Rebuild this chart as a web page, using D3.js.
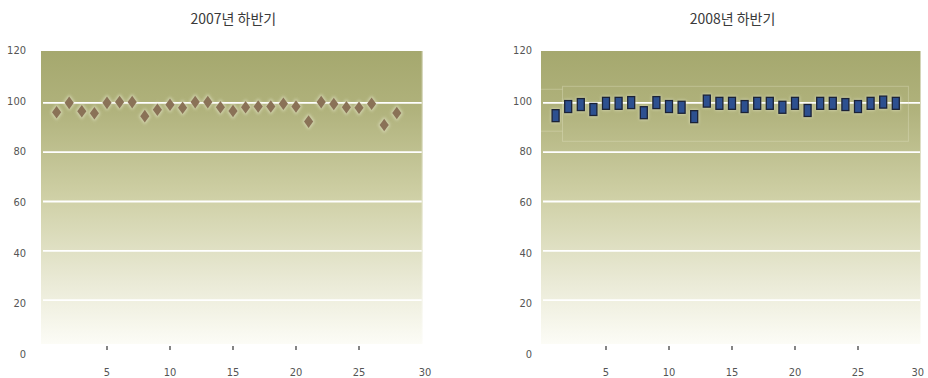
<!DOCTYPE html>
<html>
<head>
<meta charset="utf-8">
<script src="https://cdn.jsdelivr.net/npm/d3@7"></script>
<style>
  html, body { margin: 0; padding: 0; background: #fff; }
  svg { display: block; }
</style>
</head>
<body>
<svg id="chart" width="928" height="378"></svg>
<script>
// Daily index values, second half of each year
const days = d3.range(1, 29);
const values2007 = [96.2, 100, 96.6, 95.8, 100, 100.3, 100.3, 94.6, 97.2, 99.2, 98, 100.3, 100.3, 98.2,
                    96.7, 98.2, 98.5, 98.5, 99.6, 98.5, 92.4, 100.3, 99.5, 98.2, 98, 99.6, 91, 95.9];
const values2008 = [94.8, 98.5, 99.3, 97.3, 99.8, 99.8, 100.1, 96, 100.1, 98.5, 98.2, 94.4, 100.7, 99.8,
                    99.8, 98.5, 99.8, 99.8, 98.2, 99.8, 96.9, 99.8, 99.8, 99.3, 98.5, 99.8, 100.3, 99.8];
const titles = ["2007년 하반기", "2008년 하반기"];
const yTicks = [0, 20, 40, 60, 80, 100, 120];
const xTicks = [5, 10, 15, 20, 25, 30];

const svg = d3.select("#chart");
const defs = svg.append("defs");

const grad = defs.append("linearGradient")
  .attr("id", "plotFill").attr("x1", 0).attr("y1", 0).attr("x2", 0).attr("y2", 1);
grad.append("stop").attr("offset", "0%").attr("stop-color", "#a5a86e");
grad.append("stop").attr("offset", "20%").attr("stop-color", "#b0b27c");
grad.append("stop").attr("offset", "50%").attr("stop-color", "#cfd0a6");
grad.append("stop").attr("offset", "80%").attr("stop-color", "#ebebd8");
grad.append("stop").attr("offset", "100%").attr("stop-color", "#fcfcf6");

defs.append("filter").attr("id", "halo")
  .attr("x", "-100%").attr("y", "-100%").attr("width", "300%").attr("height", "300%")
  .append("feGaussianBlur").attr("stdDeviation", 1.6);

const panels = [
  { title: titles[0], values: values2007, left: 41, right: 422.7, x0: 44, labelX: 26, marker: "diamond" },
  { title: titles[1], values: values2008, left: 541, right: 921, x0: 543, labelX: 532, marker: "box" }
];

const plotTop = 51, plotBottom = 344;

panels.forEach(p => {
  const g = svg.append("g");
  const x = d3.scaleLinear().domain([0, 30]).range([p.x0, p.x0 + 378]);
  const y = d3.scaleLinear().domain([0, 120]).range([349.5, 53.5]);
  const yLabel = d3.scaleLinear().domain([0, 120]).range([354, 50]);

  // title
  g.append("text")
    .attr("x", (p.left + p.right) / 2 + 1.5).attr("y", 24)
    .attr("text-anchor", "middle")
    .attr("font-family", "'Noto Sans CJK KR', sans-serif")
    .attr("font-size", 14).attr("fill", "#3a3a3a")
    .text(p.title);

  // plot background
  g.append("rect")
    .attr("x", p.left).attr("y", plotTop)
    .attr("width", p.right - p.left).attr("height", plotBottom - plotTop)
    .attr("fill", "url(#plotFill)");
  g.append("line")
    .attr("x1", p.right - 0.5).attr("x2", p.right - 0.5)
    .attr("y1", plotTop).attr("y2", plotBottom)
    .attr("stroke", "#ffffff").attr("stroke-opacity", 0.5);

  // horizontal gridlines
  g.selectAll(".grid").data(yTicks.filter(v => v > 0 && v < 120)).join("line")
    .attr("x1", p.left + 2).attr("x2", p.right - 1)
    .attr("y1", d => y(d)).attr("y2", d => y(d))
    .attr("stroke", "#ffffff").attr("stroke-width", 1.8);

  // y labels
  g.selectAll(".ylab").data(yTicks).join("text")
    .attr("x", p.labelX).attr("y", d => yLabel(d))
    .attr("dy", "0.35em").attr("text-anchor", "end")
    .attr("font-family", "'Liberation Sans Narrow', 'DejaVu Sans Condensed', sans-serif")
    .attr("font-size", 11).attr("fill", "#555")
    .text(d => d);

  // x ticks and labels
  g.selectAll(".xtick").data(xTicks.filter(v => v < 30)).join("line")
    .attr("x1", d => x(d)).attr("x2", d => x(d))
    .attr("y1", 346).attr("y2", 350)
    .attr("stroke", "#333").attr("stroke-width", 1.2);
  g.selectAll(".xlab").data(xTicks).join("text")
    .attr("x", d => d === 30 ? Math.min(x(d) + 3, 926) : x(d))
    .attr("y", 372)
    .attr("dy", "0.35em")
    .attr("text-anchor", d => (d === 30 && x(d) + 3 > 920) ? "end" : "middle")
    .attr("font-family", "'Liberation Sans Narrow', 'DejaVu Sans Condensed', sans-serif")
    .attr("font-size", 11).attr("fill", "#555")
    .text(d => d);

  const pts = days.map((d, i) => ({ day: d, v: p.values[i] }));

  if (p.marker === "box") {
    // faint inner frame of the plot area
    g.append("rect")
      .attr("x", x(1.55)).attr("y", y(106.7))
      .attr("width", x(29) - x(1.55)).attr("height", y(84.4) - y(106.7))
      .attr("fill", "none").attr("stroke", "#e4e4c8").attr("stroke-opacity", 0.35);
    [105.5, 88.5].forEach(v => {
      g.append("line")
        .attr("x1", p.left).attr("x2", x(1.55))
        .attr("y1", y(v)).attr("y2", y(v))
        .attr("stroke", "#e4e4c8").attr("stroke-opacity", 0.35);
    });

    const w = 7, h = 12;
    g.selectAll(".halo").data(pts).join("rect")
      .attr("x", d => x(d.day) - w / 2 - 1).attr("y", d => y(d.v) - h / 2 - 1)
      .attr("width", w + 2).attr("height", h + 2)
      .attr("fill", "#eef0d8").attr("opacity", 0.6).attr("filter", "url(#halo)");
    g.selectAll(".mark").data(pts).join("rect")
      .attr("x", d => x(d.day) - w / 2).attr("y", d => y(d.v) - h / 2)
      .attr("width", w).attr("height", h)
      .attr("fill", "#2d5090").attr("stroke", "#1b2236").attr("stroke-width", 1.3);
  } else {
    const diamond = (cx, cy, rx, ry) =>
      `M${cx},${cy - ry}L${cx + rx},${cy}L${cx},${cy + ry}L${cx - rx},${cy}Z`;
    g.selectAll(".halo").data(pts).join("path")
      .attr("d", d => diamond(x(d.day), y(d.v), 6, 8))
      .attr("fill", "#eef0d8").attr("opacity", 0.6).attr("filter", "url(#halo)");
    g.selectAll(".mark").data(pts).join("path")
      .attr("d", d => diamond(x(d.day), y(d.v), 4.6, 6.3))
      .attr("fill", "#8a7257");
  }
});
</script>
</body>
</html>
